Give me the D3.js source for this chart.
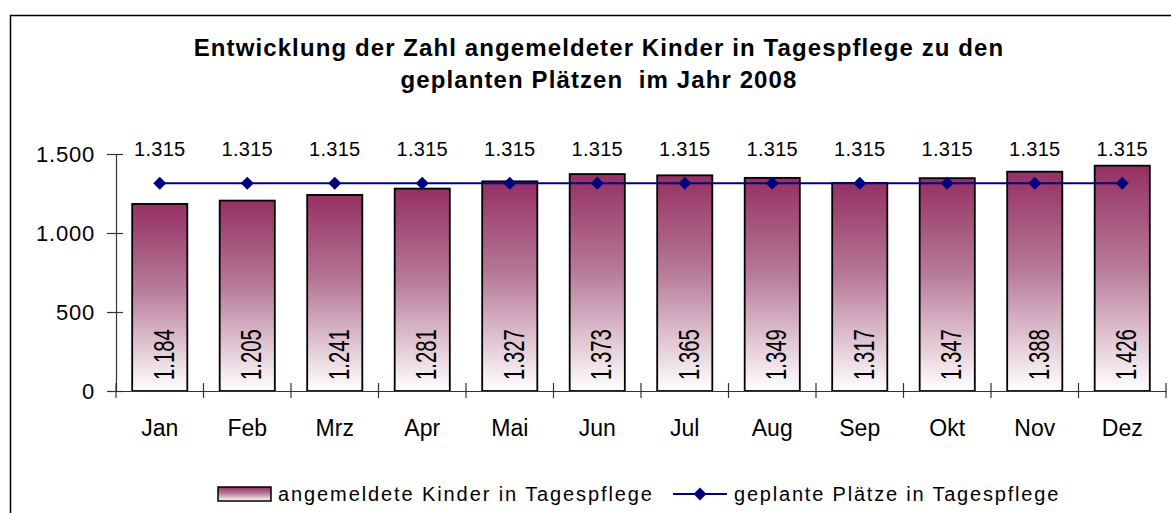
<!DOCTYPE html>
<html>
<head>
<meta charset="utf-8">
<script src="https://cdn.jsdelivr.net/npm/d3@7"></script>
<style>
  body { margin: 0; background: #fff; }
  text { font-family: "Liberation Sans", Arial, sans-serif; fill: #000; }
</style>
</head>
<body>
<svg id="root" width="1171" height="513"></svg>
<script>
const width = 1171
const height = 513

// data
const months = ['Jan', 'Feb', 'Mrz', 'Apr', 'Mai', 'Jun', 'Jul', 'Aug', 'Sep', 'Okt', 'Nov', 'Dez']
const angemeldet = [1184, 1205, 1241, 1281, 1327, 1373, 1365, 1349, 1317, 1347, 1388, 1426]
const geplant = [1315, 1315, 1315, 1315, 1315, 1315, 1315, 1315, 1315, 1315, 1315, 1315]
const yTicks = [0, 500, 1000, 1500]
const titleLines = ['Entwicklung der Zahl angemeldeter Kinder in Tagespflege zu den', 'geplanten Plätzen  im Jahr 2008']
const legendLabels = ['angemeldete Kinder in Tagespflege', 'geplante Plätze in Tagespflege']

// German number format 1.315
const fmt = d3.formatLocale({ decimal: ',', thousands: '.', grouping: [3], currency: ['', ' €'] }).format(',d')

const svg = d3.select('#root')

// outer frame (right and bottom edges are cut off)
svg.append('path')
  .attr('d', `M10.5,${height} V15.5 H${width}`)
  .attr('fill', 'none')
  .attr('stroke', '#000')
  .attr('stroke-width', 1.5)

// gradient for the bars
const grad = svg.append('defs').append('linearGradient')
  .attr('id', 'barGrad')
  .attr('x1', 0).attr('y1', 0).attr('x2', 0).attr('y2', 1)
grad.append('stop').attr('offset', '0%').attr('stop-color', '#953063')
grad.append('stop').attr('offset', '45%').attr('stop-color', '#b77a98')
grad.append('stop').attr('offset', '100%').attr('stop-color', '#ffffff')

// scales
const xScale = d3.scaleBand()
  .domain(months)
  .range([116, 1166])
  .paddingInner(0.37)
  .paddingOuter(0.185)

const xBand = d3.scaleBand().domain(months).range([116, 1166])

const yScale = d3.scaleLinear()
  .domain([0, 1500])
  .range([391, 154])

// title
svg.append('g')
  .selectAll('text')
  .data(titleLines)
  .enter()
  .append('text')
  .attr('x', 599)
  .attr('y', (d, i) => 56 + i * 32)
  .attr('text-anchor', 'middle')
  .attr('font-size', 24)
  .attr('font-weight', 'bold')
  .attr('letter-spacing', 1.1)
  .style('white-space', 'pre')
  .text(d => d)

// bars
svg.selectAll('rect.bar')
  .data(angemeldet)
  .enter()
  .append('rect')
  .attr('class', 'bar')
  .attr('x', (d, i) => xScale(months[i]))
  .attr('y', d => yScale(d))
  .attr('width', xScale.bandwidth())
  .attr('height', d => yScale(0) - yScale(d))
  .attr('fill', 'url(#barGrad)')
  .attr('stroke', '#000')
  .attr('stroke-width', 1.8)

// values inside bars (rotated, tall glyphs)
svg.selectAll('text.bar-label')
  .data(angemeldet)
  .enter()
  .append('text')
  .attr('class', 'bar-label')
  .attr('transform', (d, i) => `translate(${xScale(months[i]) + xScale.bandwidth() / 2 + 14}, 380)rotate(-90)scale(0.7,1)`)
  .attr('font-size', 29)
  .text(d => fmt(d))

// y axis
const yAxis = d3.axisLeft(yScale)
  .tickValues(yTicks)
  .tickFormat(fmt)
  .tickSize(0)
  .tickPadding(21)

const gy = svg.append('g')
  .attr('transform', 'translate(116,0)')
  .call(yAxis)
gy.select('.domain').attr('stroke', '#333').attr('stroke-width', 1.2)
gy.selectAll('.tick line').attr('x1', -9).attr('x2', 7).attr('stroke', '#333').attr('stroke-width', 1.2)
gy.selectAll('.tick text')
  .attr('font-size', 22)
  .attr('letter-spacing', 0.8)
  .attr('font-family', '"Liberation Sans", Arial, sans-serif')
  .attr('fill', '#000')
  .attr('dy', '0.36em')

// x axis
const xAxis = d3.axisBottom(xBand).tickSize(0).tickPadding(29)
const gx = svg.append('g')
  .attr('transform', 'translate(0,391)')
  .call(xAxis)
gx.select('.domain').attr('stroke', '#333').attr('stroke-width', 1.2)
gx.selectAll('.tick text')
  .attr('font-size', 23)
  .attr('font-family', '"Liberation Sans", Arial, sans-serif')
  .attr('fill', '#000')
// category separator ticks
gx.selectAll('line.sep')
  .data(months.concat(['end']))
  .enter()
  .append('line')
  .attr('class', 'sep')
  .attr('x1', (d, i) => i < months.length ? xBand(d) : xBand.range()[1])
  .attr('x2', (d, i) => i < months.length ? xBand(d) : xBand.range()[1])
  .attr('y1', -8)
  .attr('y2', 7)
  .attr('stroke', '#333')
  .attr('stroke-width', 1.2)

// planned line
const cx = (d, i) => xBand(months[i]) + xBand.bandwidth() / 2
const line = d3.line()
  .x(cx)
  .y(d => yScale(d))

svg.append('path')
  .datum(geplant)
  .attr('d', line)
  .attr('fill', 'none')
  .attr('stroke', '#000080')
  .attr('stroke-width', 2)

svg.selectAll('path.marker')
  .data(geplant)
  .enter()
  .append('path')
  .attr('class', 'marker')
  .attr('transform', (d, i) => `translate(${cx(d, i)},${yScale(d)})rotate(45)`)
  .attr('d', d3.symbol().type(d3.symbolSquare).size(85))
  .attr('fill', '#000080')

// planned value labels
svg.selectAll('text.line-label')
  .data(geplant)
  .enter()
  .append('text')
  .attr('class', 'line-label')
  .attr('x', cx)
  .attr('y', 156)
  .attr('text-anchor', 'middle')
  .attr('font-size', 20)
  .attr('letter-spacing', 0.3)
  .text(d => fmt(d))

// legend
const legend = svg.append('g')
legend.append('rect')
  .attr('x', 218).attr('y', 487)
  .attr('width', 53).attr('height', 14)
  .attr('fill', 'url(#barGrad)')
  .attr('stroke', '#000')
  .attr('stroke-width', 1.5)
legend.append('text')
  .attr('x', 278).attr('y', 501)
  .attr('font-size', 20)
  .attr('letter-spacing', 1.9)
  .text(legendLabels[0])
legend.append('line')
  .attr('x1', 673).attr('x2', 727)
  .attr('y1', 494).attr('y2', 494)
  .attr('stroke', '#000080')
  .attr('stroke-width', 2)
legend.append('path')
  .attr('transform', 'translate(700,494)rotate(45)')
  .attr('d', d3.symbol().type(d3.symbolSquare).size(85))
  .attr('fill', '#000080')
legend.append('text')
  .attr('x', 734).attr('y', 501)
  .attr('font-size', 20)
  .attr('letter-spacing', 1.8)
  .text(legendLabels[1])
</script>
</body>
</html>
